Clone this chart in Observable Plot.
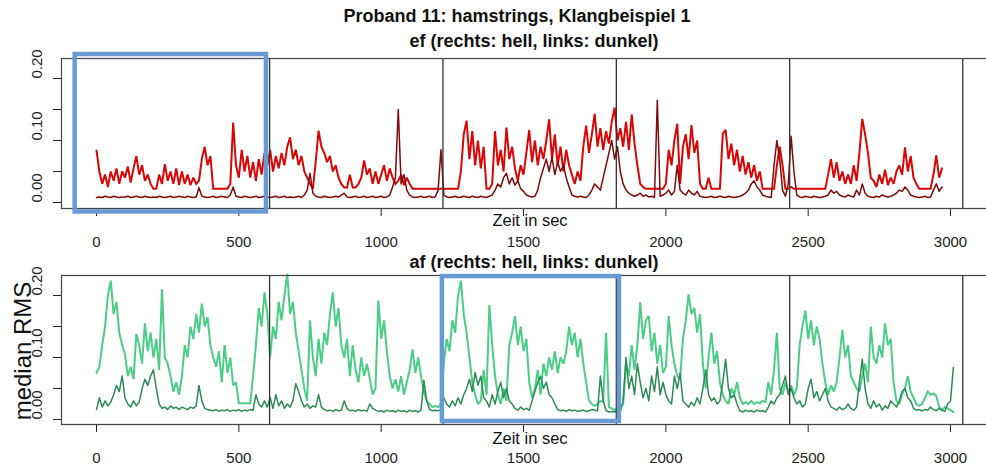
<!DOCTYPE html>
<html>
<head>
<meta charset="utf-8">
<script src="https://cdn.jsdelivr.net/npm/d3@7"></script>
<script src="https://cdn.jsdelivr.net/npm/@observablehq/plot@0.6"></script>
<style>
  html, body { margin: 0; padding: 0; background: #fff; overflow: hidden; }
  #chart { position: relative; width: 986px; height: 466px; overflow: hidden; font-family: "Liberation Sans", Arial, sans-serif; }
  #chart > .panel { position: absolute; left: 0; max-width: none !important; }
  #overlay { position: absolute; left: 0; top: 0; pointer-events: none; }
</style>
</head>
<body>
<div id="chart"></div>
<script>
// ---------------- data ----------------
const title = "Proband 11: hamstrings, Klangbeispiel 1";
const subtitleEf = "ef (rechts: hell, links: dunkel)";
const subtitleAf = "af (rechts: hell, links: dunkel)";
const xLabel = "Zeit in sec";
const yLabel = "median RMS";

const timeStep = 10; // seconds between samples
const xTicks = [0, 500, 1000, 1500, 2000, 2500, 3000];
const yTicks = [0, 0.05, 0.10, 0.15, 0.20];
const yTickLabels = [0, 0.10, 0.20];
const markerTimes = [608, 1217, 1826, 2435, 3043];
const highlightEf = {x1: -75, x2: 597, y1: -0.0153, y2: 0.2387};
const highlightAf = {x1: 1215, x2: 1837, y1: -0.0032, y2: 0.2306};

// ef, rechts (hell)
const efHell = [
.084,.05,.03,.045,.025,.05,.035,.055,.03,.05,
.04,.058,.032,.055,.075,.045,.06,.035,.045,.03,
.022,.022,.045,.03,.062,.035,.05,.03,.055,.028,
.05,.03,.045,.028,.04,.03,.035,.07,.09,.06,
.075,.022,.022,.022,.022,.022,.022,.03,.129,.06,
.04,.085,.05,.075,.04,.065,.035,.07,.045,.08,
.06,.085,.05,.075,.055,.08,.06,.09,.105,.07,
.085,.06,.075,.05,.04,.03,.022,.065,.116,.09,
.08,.065,.075,.05,.06,.04,.03,.024,.024,.045,
.024,.024,.03,.04,.068,.045,.055,.03,.05,.03,
.045,.06,.035,.055,.04,.03,.035,.045,.028,.04,
.03,.022,.022,.022,.022,.022,.022,.022,.022,.022,
.022,.022,.022,.022,.022,.022,.022,.022,.05,.11,
.132,.07,.115,.06,.1,.055,.09,.022,.022,.03,
.115,.06,.085,.05,.121,.07,.09,.055,.035,.06,
.045,.08,.117,.065,.1,.06,.09,.07,.1,.134,
.07,.11,.06,.09,.05,.085,.06,.045,.03,.05,
.035,.09,.124,.08,.11,.143,.09,.12,.085,.115,
.095,.13,.153,.1,.12,.09,.13,.085,.142,.095,
.06,.03,.025,.022,.022,.022,.022,.022,.022,.022,
.03,.085,.06,.1,.127,.03,.09,.11,.07,.125,
.08,.1,.03,.022,.022,.04,.022,.022,.022,.022,
.111,.117,.07,.095,.06,.085,.05,.075,.045,.065,
.04,.06,.035,.05,.022,.022,.022,.022,.022,.06,
.09,.06,.022,.022,.025,.022,.022,.022,.022,.022,
.022,.022,.022,.022,.022,.022,.022,.045,.07,.04,
.065,.035,.05,.03,.045,.03,.06,.035,.08,.135,
.11,.08,.04,.035,.025,.045,.03,.053,.028,.04,
.03,.05,.06,.045,.089,.05,.075,.04,.03,.022,
.022,.022,.022,.022,.045,.076,.04,.055
];

// ef, links (dunkel)
const efDunkel = [
.008,.009,.008,.01,.009,.008,.01,.009,.008,.009,
.009,.01,.008,.009,.01,.009,.008,.01,.009,.008,
.009,.008,.01,.009,.008,.009,.01,.008,.009,.01,
.009,.008,.01,.009,.008,.009,.024,.01,.009,.008,
.009,.01,.008,.009,.01,.009,.008,.012,.025,.01,
.009,.008,.01,.009,.008,.009,.01,.008,.009,.01,
.009,.008,.009,.01,.008,.009,.01,.008,.009,.008,
.009,.01,.008,.012,.02,.047,.015,.01,.009,.008,
.01,.009,.008,.009,.01,.009,.012,.015,.009,.008,
.009,.01,.008,.009,.01,.008,.009,.01,.008,.009,
.01,.008,.009,.012,.025,.04,.15,.03,.045,.02,
.012,.009,.008,.009,.01,.008,.009,.01,.008,.009,
.02,.085,.012,.009,.008,.009,.01,.008,.009,.01,
.009,.008,.01,.009,.008,.01,.009,.008,.01,.012,
.02,.03,.025,.04,.047,.03,.04,.028,.035,.022,
.018,.012,.01,.009,.01,.02,.04,.055,.07,.05,
.073,.045,.065,.05,.06,.04,.025,.012,.01,.009,
.01,.009,.008,.012,.02,.03,.025,.02,.04,.06,
.08,.1,.07,.09,.05,.03,.02,.015,.012,.01,
.012,.015,.01,.012,.009,.01,.008,.165,.01,.012,
.015,.02,.012,.018,.06,.02,.015,.012,.02,.015,
.012,.018,.01,.009,.008,.009,.01,.008,.009,.01,
.009,.008,.01,.009,.008,.009,.01,.012,.015,.02,
.03,.035,.025,.02,.012,.01,.009,.008,.06,.1,
.07,.02,.01,.03,.107,.05,.012,.009,.008,.01,
.009,.008,.01,.009,.008,.009,.01,.012,.02,.015,
.018,.012,.01,.009,.012,.01,.009,.02,.012,.03,
.015,.01,.009,.008,.01,.009,.012,.01,.009,.01,
.012,.015,.02,.018,.025,.02,.012,.01,.009,.008,
.009,.01,.008,.009,.02,.03,.018,.025
];

// af, rechts (hell)
const afHell = [
.075,.085,.12,.15,.2,.224,.17,.19,.14,.12,
.105,.07,.085,.065,.138,.12,.09,.155,.11,.14,
.1,.13,.08,.21,.1,.09,.07,.045,.06,.04,
.07,.12,.1,.15,.13,.17,.14,.187,.15,.165,
.12,.1,.085,.11,.06,.12,.075,.1,.055,.06,
.026,.026,.026,.026,.026,.07,.12,.18,.15,.205,
.17,.1,.15,.13,.19,.16,.2,.235,.17,.19,
.14,.11,.08,.05,.03,.16,.1,.07,.13,.09,
.14,.12,.17,.205,.15,.18,.12,.1,.13,.07,
.12,.08,.06,.1,.07,.09,.065,.04,.05,.192,
.13,.16,.11,.07,.05,.065,.045,.07,.04,.06,
.08,.113,.075,.1,.07,.045,.03,.025,.02,.022,
.02,.025,.09,.13,.11,.16,.14,.2,.224,.17,
.14,.1,.06,.04,.025,.03,.08,.04,.185,.12,
.07,.04,.025,.05,.03,.12,.14,.167,.12,.15,
.11,.13,.06,.035,.05,.08,.04,.09,.07,.1,
.08,.11,.075,.1,.09,.11,.15,.12,.14,.1,
.13,.09,.06,.03,.025,.022,.025,.03,.028,.14,
.02,.018,.015,.02,.018,.025,.09,.07,.12,.08,
.12,.189,.13,.16,.167,.11,.14,.09,.12,.075,
.085,.167,.12,.09,.07,.065,.13,.16,.202,.17,
.18,.14,.17,.09,.05,.1,.14,.09,.11,.06,
.04,.03,.025,.05,.04,.06,.035,.025,.028,.025,
.03,.025,.028,.026,.03,.028,.06,.04,.08,.14,
.05,.04,.06,.045,.055,.04,.05,.12,.15,.176,
.13,.16,.12,.15,.13,.09,.06,.04,.055,.045,
.06,.1,.144,.1,.12,.07,.06,.05,.045,.07,
.09,.06,.15,.1,.09,.12,.1,.155,.12,.13,
.06,.03,.025,.04,.05,.07,.045,.035,.025,.022,
.025,.035,.045,.04,.042,.038,.02,.015,.02,.018,
.015,.012
];

// af, links (dunkel)
const afDunkel = [
.016,.035,.02,.03,.022,.028,.04,.055,.045,.07,
.035,.025,.02,.03,.022,.028,.05,.065,.055,.07,
.08,.05,.025,.018,.02,.016,.022,.018,.02,.016,
.02,.018,.016,.02,.018,.022,.055,.03,.018,.016,
.015,.014,.016,.013,.015,.014,.016,.013,.015,.014,
.016,.013,.015,.014,.016,.015,.04,.025,.02,.03,
.02,.035,.018,.04,.022,.03,.018,.025,.02,.03,
.058,.045,.03,.02,.025,.018,.022,.02,.04,.02,
.016,.014,.015,.013,.016,.014,.015,.03,.018,.014,
.015,.013,.016,.014,.015,.013,.025,.018,.015,.013,
.014,.012,.015,.013,.014,.012,.015,.013,.014,.012,
.015,.013,.014,.012,.015,.063,.03,.016,.014,.015,
.014,.016,.035,.025,.02,.03,.022,.035,.025,.04,
.05,.065,.045,.076,.055,.07,.035,.03,.02,.04,
.025,.045,.06,.035,.05,.03,.025,.018,.015,.02,
.016,.018,.015,.03,.045,.06,.07,.05,.06,.04,
.035,.025,.016,.014,.015,.013,.016,.014,.015,.013,
.014,.015,.013,.014,.016,.015,.014,.07,.03,.014,
.012,.013,.012,.014,.013,.03,.1,.05,.07,.04,
.09,.06,.035,.05,.03,.07,.045,.085,.04,.06,
.04,.03,.025,.07,.05,.075,.03,.025,.02,.028,
.022,.035,.025,.05,.08,.04,.03,.035,.025,.03,
.06,.097,.05,.035,.04,.025,.014,.012,.015,.013,
.014,.012,.015,.013,.014,.012,.02,.03,.025,.035,
.04,.055,.07,.04,.05,.035,.025,.03,.02,.025,
.05,.065,.035,.045,.03,.04,.05,.03,.02,.018,
.015,.02,.016,.018,.025,.018,.015,.02,.06,.097,
.05,.025,.018,.03,.02,.025,.015,.022,.018,.03,
.025,.02,.03,.045,.05,.035,.03,.018,.015,.016,
.014,.016,.015,.02,.016,.014,.018,.015,.013,.025,
.03,.084
];

// ---------------- drawing ----------------
const colors = {
  efHell: "#da0505", efDunkel: "#7e0a0a",
  afHell: "#4bcd86", afDunkel: "#2e8b57",
  marker: "#333333", frame: "#444444", highlight: "#6a9ad4"
};
const timeOf = (d, i) => i * timeStep;
const fmt = d3.format(".2f");

function panel({hell, dunkel, cHell, cDunkel, box, yDomain, height, marginTop}) {
  return Plot.plot({
    width: 1000,
    height,
    marginTop,
    marginBottom: 42,
    marginLeft: 61,
    marginRight: 5,
    style: {fontFamily: "'Liberation Sans', Arial, sans-serif", fontSize: "15px", background: "transparent", overflow: "visible", color: "#222", maxWidth: "none"},
    x: {domain: [-123, 3158], ticks: xTicks, tickSize: 8, tickPadding: 20, tickFormat: d => String(d), label: null},
    y: {domain: yDomain, ticks: yTicks, tickFormat: () => "", tickSize: 8, label: null},
    marks: [
      Plot.line(hell, {x: timeOf, y: d => d, stroke: cHell, strokeWidth: 2, strokeLinejoin: "miter", strokeMiterlimit: 2}),
      Plot.line(dunkel, {x: timeOf, y: d => d, stroke: cDunkel, strokeWidth: 1.5}),
      Plot.ruleX(markerTimes, {stroke: colors.marker, strokeWidth: 1.3}),
      Plot.frame({stroke: colors.frame, strokeWidth: 1.2}),
      Plot.text(yTickLabels, {y: d => d, text: d => fmt(d), frameAnchor: "left", dx: -24, rotate: -90, fontSize: 15, fill: "#222"}),
      box ? Plot.rect([box], {x1: "x1", x2: "x2", y1: "y1", y2: "y2", fill: "none", stroke: colors.highlight, strokeWidth: 4.5}) : null
    ]
  });
}

const chartDiv = document.getElementById("chart");

const topPanel = panel({hell: efHell, dunkel: efDunkel, cHell: colors.efHell, cDunkel: colors.efDunkel,
  box: highlightEf, yDomain: [-0.0097, 0.2323], height: 250, marginTop: 58});
topPanel.classList.add("panel");
topPanel.style.top = "0px";
chartDiv.appendChild(topPanel);

const bottomPanel = panel({hell: afHell, dunkel: afDunkel, cHell: colors.afHell, cDunkel: colors.afDunkel,
  box: highlightAf, yDomain: [-0.0081, 0.2323], height: 216, marginTop: 25});
bottomPanel.classList.add("panel");
bottomPanel.style.top = "250px";
chartDiv.appendChild(bottomPanel);

// titles and axis labels as real text
const overlay = d3.select(chartDiv).append("svg")
  .attr("id", "overlay").attr("width", 986).attr("height", 466)
  .style("font-family", "'Liberation Sans', Arial, sans-serif");
const texts = [
  {t: title, x: 517, y: 21.5, size: 18, weight: "bold"},
  {t: subtitleEf, x: 534, y: 46.5, size: 18, weight: "bold"},
  {t: subtitleAf, x: 534, y: 267.5, size: 18, weight: "bold"},
  {t: xLabel, x: 530, y: 226, size: 16.5, weight: "normal"},
  {t: xLabel, x: 530, y: 443.5, size: 16.5, weight: "normal"}
];
overlay.selectAll("text.lbl").data(texts).join("text")
  .attr("class", "lbl")
  .attr("x", d => d.x).attr("y", d => d.y)
  .attr("text-anchor", "middle")
  .attr("font-size", d => d.size).attr("font-weight", d => d.weight)
  .attr("fill", "#111")
  .text(d => d.t);
overlay.append("text")
  .attr("transform", "translate(31,351) rotate(-90)")
  .attr("text-anchor", "middle")
  .attr("font-size", 24).attr("fill", "#111")
  .text(yLabel);
</script>
</body>
</html>
